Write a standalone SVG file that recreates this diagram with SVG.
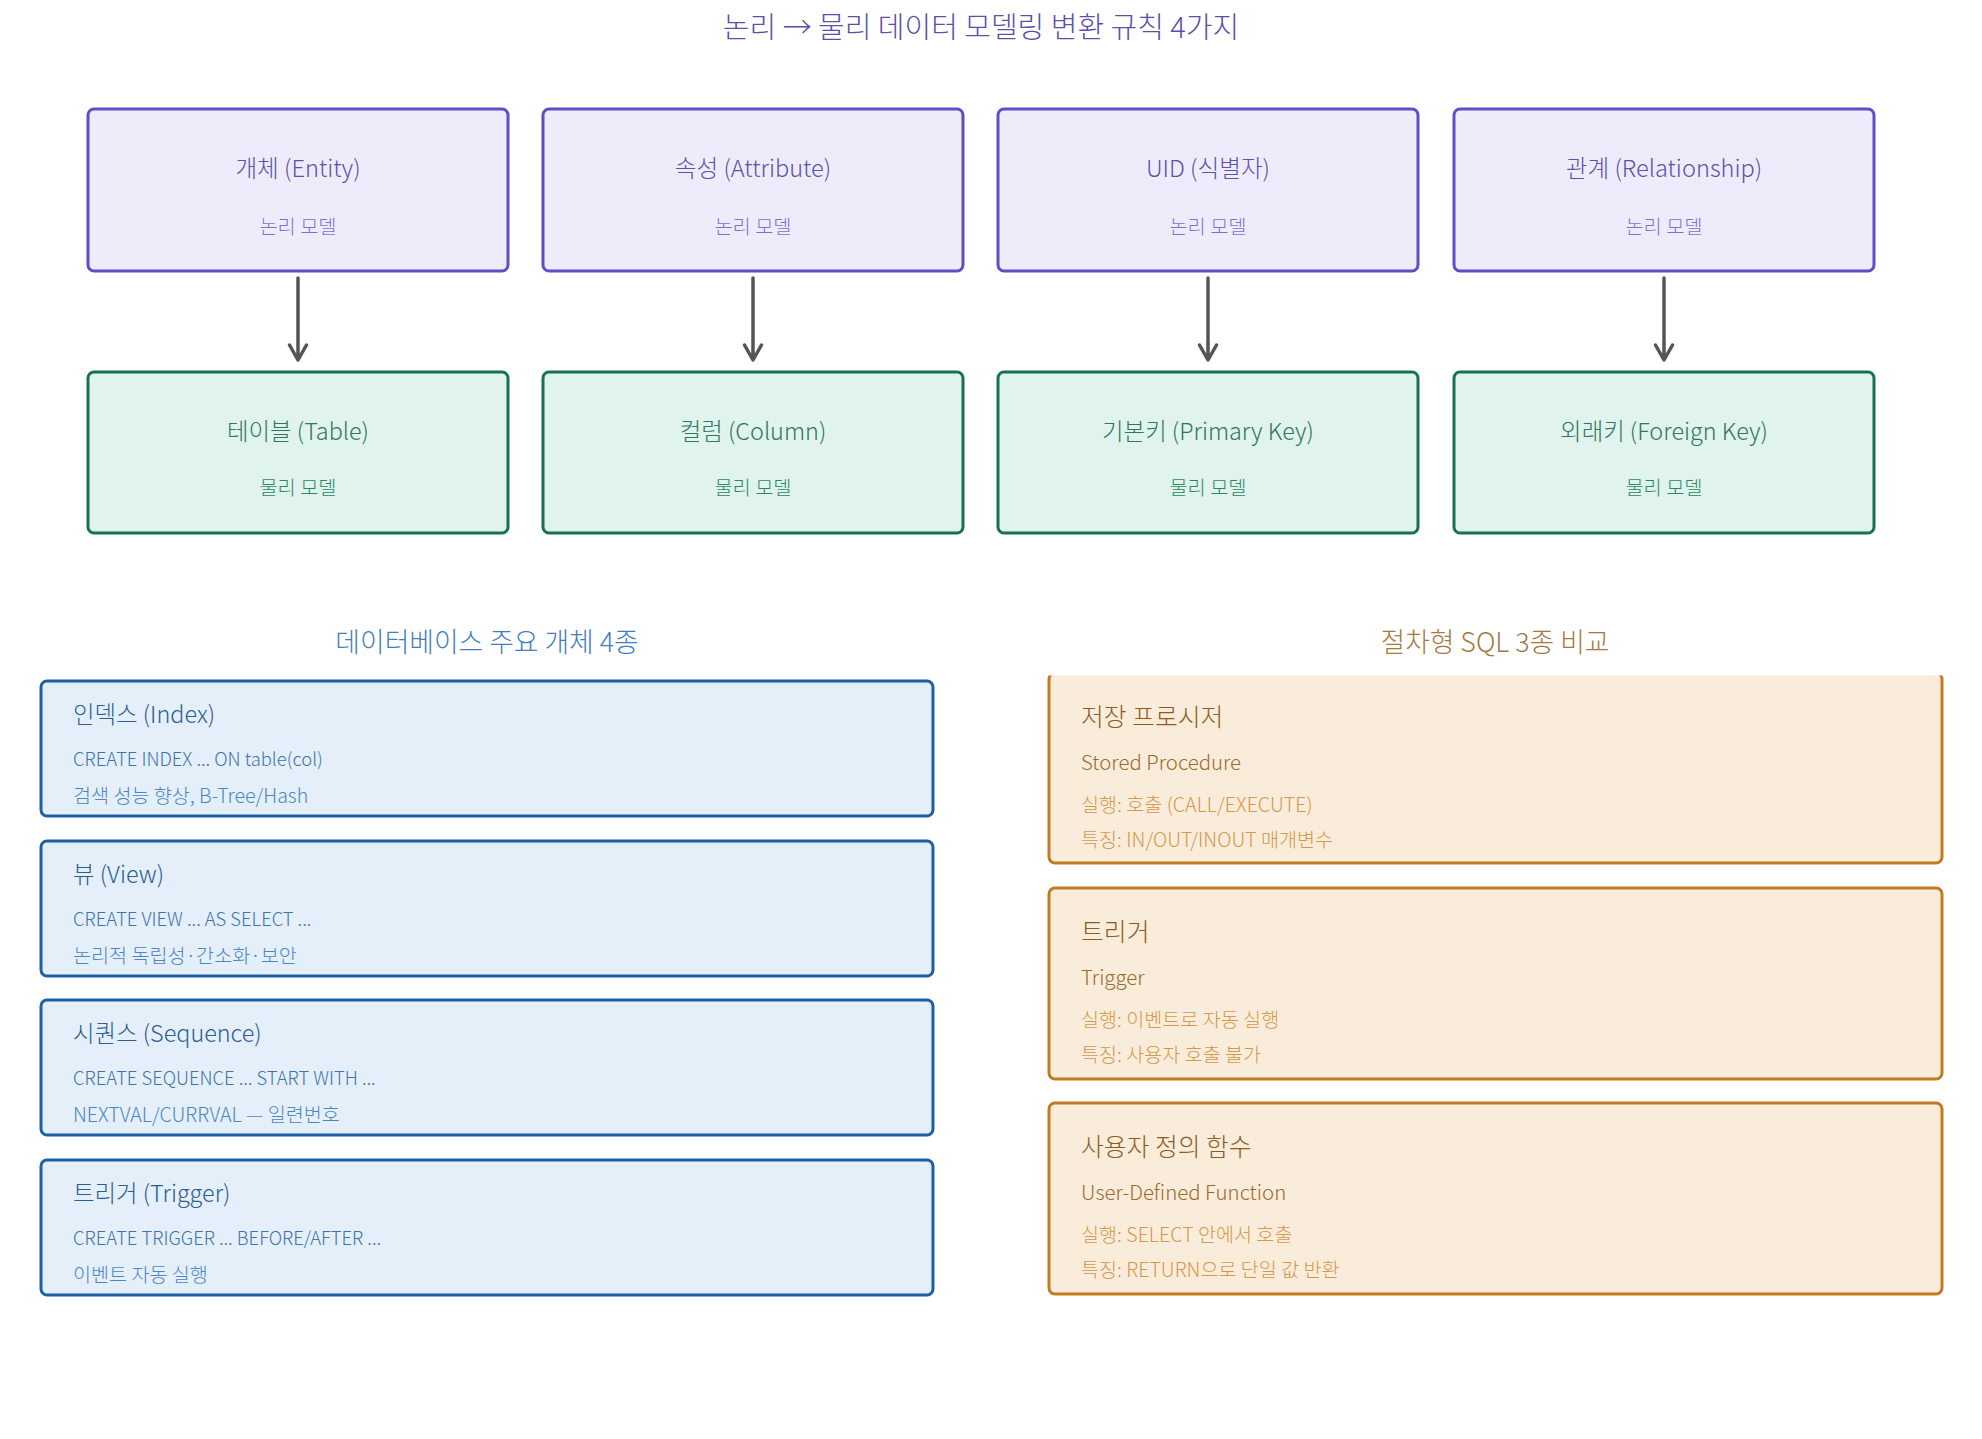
<svg xmlns="http://www.w3.org/2000/svg" width="1982" height="1439" viewBox="0 0 1982 1439">
<defs>
<style>
text{font-family:"Noto Sans CJK KR","Noto Sans",sans-serif;font-weight:300;}
.title{font-size:29px;fill:#5b50a8;}
.lbox{fill:#eeecfb;stroke:#5a4fc4;stroke-width:3;}
.pbox{fill:#e0f3ec;stroke:#187055;stroke-width:3;}
.lt{font-size:23.6px;fill:#5a52ac;text-anchor:middle;}
.ls{font-size:19.8px;fill:#7a70d4;text-anchor:middle;}
.pt{font-size:23.4px;fill:#2f7762;text-anchor:middle;}
.ps{font-size:19.8px;fill:#2b8866;text-anchor:middle;}
.conn{stroke:#555;stroke-width:3.5;fill:none;stroke-linecap:round;stroke-linejoin:round;}
.hb{font-size:26.8px;fill:#3f80c2;text-anchor:middle;}
.ho{font-size:26.8px;fill:#a67a40;text-anchor:middle;}
.bbox{fill:#e4eff9;stroke:#1d5fa5;stroke-width:3;}
.bt{font-size:23.4px;fill:#2b5e92;}
.b2{font-size:18.4px;fill:#3d74ad;}
.b3{font-size:19.6px;fill:#4b86c4;}
.obox{fill:#faecda;stroke:#c27a1e;stroke-width:3;}
.ot{font-size:24.8px;fill:#8c5c22;}
.o2{font-size:20.4px;fill:#9b6a2e;}
.o3{font-size:19.6px;fill:#d5974a;}
</style>
<clipPath id="clipTop"><rect x="1030" y="675.5" width="930" height="210"/></clipPath>
</defs>
<rect width="1982" height="1439" fill="#ffffff"/>
<text class="title" x="981" y="38" text-anchor="middle">논리 → 물리 데이터 모델링 변환 규칙 4가지</text>

<g id="connectors">
<path class="conn" d="M298 278 V360 M289.5 345 L298 360 L306.5 345"/>
<path class="conn" d="M753 278 V360 M744.5 345 L753 360 L761.5 345"/>
<path class="conn" d="M1208 278 V360 M1199.5 345 L1208 360 L1216.5 345"/>
<path class="conn" d="M1664 278 V360 M1655.5 345 L1664 360 L1672.5 345"/>
</g>

<g id="entity"><rect class="lbox" x="88" y="109" width="420" height="162" rx="6"/><text class="lt" x="298" y="177">개체 (Entity)</text><text class="ls" x="298" y="234">논리 모델</text></g>
<g id="attribute"><rect class="lbox" x="543" y="109" width="420" height="162" rx="6"/><text class="lt" x="753" y="177">속성 (Attribute)</text><text class="ls" x="753" y="234">논리 모델</text></g>
<g id="uid"><rect class="lbox" x="998" y="109" width="420" height="162" rx="6"/><text class="lt" x="1208" y="177">UID (식별자)</text><text class="ls" x="1208" y="234">논리 모델</text></g>
<g id="relationship"><rect class="lbox" x="1454" y="109" width="420" height="162" rx="6"/><text class="lt" x="1664" y="177">관계 (Relationship)</text><text class="ls" x="1664" y="234">논리 모델</text></g>

<g id="table"><rect class="pbox" x="88" y="372" width="420" height="161" rx="6"/><text class="pt" x="298" y="440">테이블 (Table)</text><text class="ps" x="298" y="495">물리 모델</text></g>
<g id="column"><rect class="pbox" x="543" y="372" width="420" height="161" rx="6"/><text class="pt" x="753" y="440">컬럼 (Column)</text><text class="ps" x="753" y="495">물리 모델</text></g>
<g id="primarykey"><rect class="pbox" x="998" y="372" width="420" height="161" rx="6"/><text class="pt" x="1208" y="440">기본키 (Primary Key)</text><text class="ps" x="1208" y="495">물리 모델</text></g>
<g id="foreignkey"><rect class="pbox" x="1454" y="372" width="420" height="161" rx="6"/><text class="pt" x="1664" y="440">외래키 (Foreign Key)</text><text class="ps" x="1664" y="495">물리 모델</text></g>

<text class="hb" x="487" y="652">데이터베이스 주요 개체 4종</text>
<text class="ho" x="1495" y="652">절차형 SQL 3종 비교</text>

<g id="index"><rect class="bbox" x="41" y="681" width="892" height="135" rx="6"/><text class="bt" x="73" y="723">인덱스 (Index)</text><text class="b2" x="73" y="766">CREATE INDEX ... ON table(col)</text><text class="b3" x="73" y="803">검색 성능 향상, B-Tree/Hash</text></g>
<g id="view"><rect class="bbox" x="41" y="841" width="892" height="135" rx="6"/><text class="bt" x="73" y="883">뷰 (View)</text><text class="b2" x="73" y="926">CREATE VIEW ... AS SELECT ...</text><text class="b3" x="73" y="963">논리적 독립성·간소화·보안</text></g>
<g id="sequence"><rect class="bbox" x="41" y="1000" width="892" height="135" rx="6"/><text class="bt" x="73" y="1042">시퀀스 (Sequence)</text><text class="b2" x="73" y="1085">CREATE SEQUENCE ... START WITH ...</text><text class="b3" x="73" y="1122">NEXTVAL/CURRVAL — 일련번호</text></g>
<g id="trigger-obj"><rect class="bbox" x="41" y="1160" width="892" height="135" rx="6"/><text class="bt" x="73" y="1202">트리거 (Trigger)</text><text class="b2" x="73" y="1245">CREATE TRIGGER ... BEFORE/AFTER ...</text><text class="b3" x="73" y="1282">이벤트 자동 실행</text></g>

<g id="procedure"><rect class="obox" x="1049" y="673" width="893" height="190" rx="6" clip-path="url(#clipTop)"/><text class="ot" x="1081" y="726">저장 프로시저</text><text class="o2" x="1081" y="770">Stored Procedure</text><text class="o3" x="1081" y="812">실행: 호출 (CALL/EXECUTE)</text><text class="o3" x="1081" y="847">특징: IN/OUT/INOUT 매개변수</text></g>
<g id="trigger-proc"><rect class="obox" x="1049" y="888" width="893" height="191" rx="6"/><text class="ot" x="1081" y="941">트리거</text><text class="o2" x="1081" y="985">Trigger</text><text class="o3" x="1081" y="1027">실행: 이벤트로 자동 실행</text><text class="o3" x="1081" y="1062">특징: 사용자 호출 불가</text></g>
<g id="udf"><rect class="obox" x="1049" y="1103" width="893" height="191" rx="6"/><text class="ot" x="1081" y="1156">사용자 정의 함수</text><text class="o2" x="1081" y="1200">User-Defined Function</text><text class="o3" x="1081" y="1242">실행: SELECT 안에서 호출</text><text class="o3" x="1081" y="1277">특징: RETURN으로 단일 값 반환</text></g>
</svg>
